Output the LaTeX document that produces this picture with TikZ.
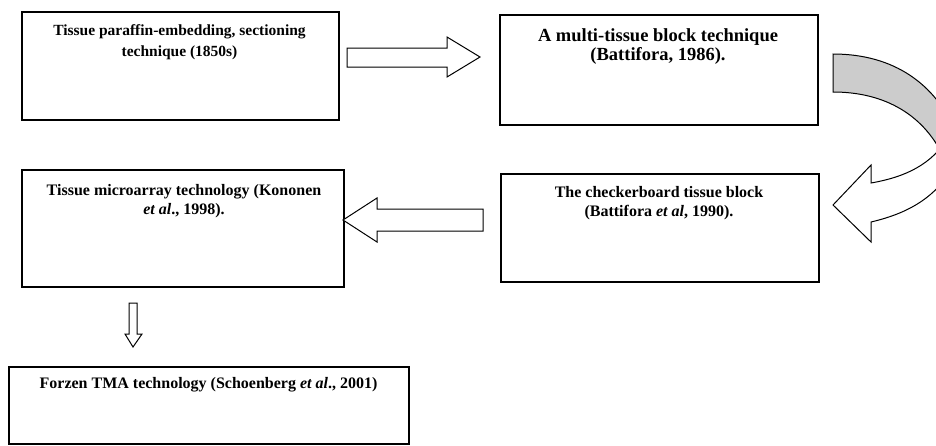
\documentclass[tikz,border=0pt]{standalone}
\usepackage{fontspec}
\setmainfont{Liberation Serif}
\definecolor{bandgray}{RGB}{204,204,204}
\begin{document}
\begin{tikzpicture}[x=1pt,y=-1pt,
  box/.style={draw, line width=1.5pt, anchor=north west, inner sep=0pt},
  txt/.style={align=center, inner sep=0pt, font=\bfseries\fontsize{16}{19}\selectfont},
  blockarrow/.style={draw, line width=1pt, fill=white, line join=miter}]
\useasboundingbox (0,0) rectangle (936,445);
\clip (0,0) rectangle (936,445);
% boxes
\node[box, minimum width=317pt, minimum height=108pt] (b1) at (21,11) {};
\node[box, minimum width=318pt, minimum height=110pt] (b2) at (499,14) {};
\node[box, minimum width=318pt, minimum height=108pt] (b3) at (500,173) {};
\node[box, minimum width=322pt, minimum height=117pt] (b4) at (21,169) {};
\node[box, minimum width=400pt, minimum height=77pt] (b5) at (8,366) {};
% texts
\node[txt, font=\bfseries\fontsize{15.5}{21}\selectfont] (t1) at (179.5,42.5) {Tissue paraffin-embedding, sectioning\\technique (1850s)};
\node[txt, font=\bfseries\fontsize{18.5}{19}\selectfont] (t2) at (658,47) {A multi-tissue block technique\\(Battifora, 1986).};
\node[txt] (t3) at (659,203.5) {The checkerboard tissue block\\(Battifora \textit{et al}, 1990).};
\node[txt] (t4) at (184,201) {Tissue microarray technology (Kononen\\\textit{et al}., 1998).};
\node[txt] (t5) at (208.5,385) {Forzen TMA technology (Schoenberg \textit{et al}., 2001)};
% straight block arrows
\draw[blockarrow] (347,48) -- (447,48) -- (447,37) -- (480,57) -- (447,77) -- (447,67) -- (347,67) -- cycle;
\draw[blockarrow] (483,209) -- (377,209) -- (377,198) -- (343,220) -- (377,242) -- (377,231) -- (483,231) -- cycle;
\draw[blockarrow] (129,303) -- (137,303) -- (137,334) -- (142,334) -- (133,347) -- (125,334) -- (129,334) -- cycle;
% curved arrow: white front part with head
\draw[blockarrow] (871,183) -- (871,165) -- (833,205) -- (871,242) -- (871,222)
  .. controls (905,214) and (932,200) .. (950,172) -- (950,135)
  .. controls (932,165) and (905,177) .. (871,183) -- cycle;
% curved arrow: gray back part
\draw[line width=1pt, fill=bandgray, line join=miter] (833,54)
  .. controls (895,54) and (935,85) .. (955,130) -- (945,160)
  .. controls (925,115) and (885,92) .. (833,92) -- cycle;
\end{tikzpicture}
\end{document}
